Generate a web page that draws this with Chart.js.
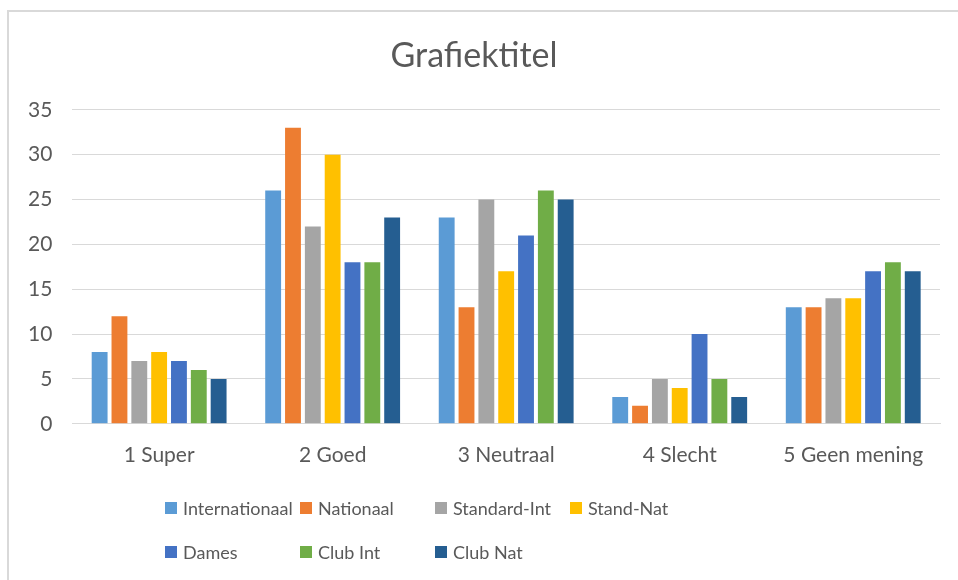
<!DOCTYPE html>
<html>
<head>
<meta charset="utf-8">
<script src="https://cdn.jsdelivr.net/npm/chart.js@4"></script>
<style>
    html, body { margin: 0; padding: 0; background: #fff; }
    #wrap { position: relative; width: 958px; height: 580px; overflow: hidden; font-family: Lato, sans-serif; }
    #frame { position: absolute; left: 7px; top: 10px; right: -5px; bottom: -5px; border-top: 2px solid #d9d9d9; border-left: 2px solid #d9d9d9; }
    canvas { position: absolute; left: 0; top: 0; }
    #legend { position: absolute; left: 165px; top: 496px; display: grid; grid-template-columns: repeat(4, 135px); row-gap: 20px; }
    .item { display: flex; align-items: center; height: 24px; font-size: 18px; color: #595959; white-space: nowrap; }
    .box { width: 12px; height: 12px; margin-right: 6px; flex: none; }
</style>
</head>
<body>
<div id="wrap">
    <div id="frame"></div>
    <canvas id="chart" width="958" height="580"></canvas>
    <div id="legend"></div>
</div>
<script>
const categories = ['1 Super', '2 Goed', '3 Neutraal', '4 Slecht', '5 Geen mening'];

const internationaal = [8, 26, 23, 3, 13];
const nationaal = [12, 33, 13, 2, 13];
const standardInt = [7, 22, 25, 5, 14];
const standNat = [8, 30, 17, 4, 14];
const dames = [7, 18, 21, 10, 17];
const clubInt = [6, 18, 26, 5, 18];
const clubNat = [5, 23, 25, 3, 17];

const yTicks = [0, 5, 10, 15, 20, 25, 30, 35];

const series = [
    { label: 'Internationaal', data: internationaal, color: '#5b9bd5' },
    { label: 'Nationaal', data: nationaal, color: '#ed7d31' },
    { label: 'Standard-Int', data: standardInt, color: '#a5a5a5' },
    { label: 'Stand-Nat', data: standNat, color: '#ffc000' },
    { label: 'Dames', data: dames, color: '#4472c4' },
    { label: 'Club Int', data: clubInt, color: '#70ad47' },
    { label: 'Club Nat', data: clubNat, color: '#255e91' }
];

const textColor = '#595959';
const gridColor = '#d9d9d9';

// legend is drawn as html so the columns line up like the original
const htmlLegend = {
    id: 'htmlLegend',
    afterUpdate(chart) {
        const box = document.getElementById('legend');
        box.innerHTML = '';
        const items = chart.options.plugins.legend.labels.generateLabels(chart);
        items.forEach(item => {
            const el = document.createElement('div');
            el.className = 'item';
            const sw = document.createElement('span');
            sw.className = 'box';
            sw.style.background = item.fillStyle;
            el.appendChild(sw);
            el.appendChild(document.createTextNode(item.text));
            box.appendChild(el);
        });
    }
};

new Chart(document.getElementById('chart'), {
    type: 'bar',
    data: {
        labels: categories,
        datasets: series.map(s => ({
            label: s.label,
            data: s.data,
            backgroundColor: s.color,
            borderWidth: 0,
            barPercentage: 0.8,
            categoryPercentage: 0.8
        }))
    },
    options: {
        responsive: false,
        animation: false,
        layout: { padding: { top: 36, left: 8, right: 18, bottom: 93 } },
        plugins: {
            legend: { display: false },
            tooltip: { enabled: false },
            title: {
                display: true,
                text: 'Grafiektitel',
                color: textColor,
                font: { family: 'Lato', size: 34, weight: 'normal' },
                padding: { top: 0, bottom: 33 }
            }
        },
        scales: {
            x: {
                grid: { display: false, drawTicks: false },
                border: { display: true, color: gridColor, width: 1 },
                ticks: { color: textColor, font: { family: 'Lato', size: 21 }, padding: 19 }
            },
            y: {
                min: 0,
                max: 35,
                afterBuildTicks(axis) { axis.ticks = yTicks.map(v => ({ value: v })); },
                grid: { color: gridColor, drawTicks: false },
                border: { display: false },
                ticks: { color: textColor, font: { family: 'Lato', size: 21 }, padding: 20 }
            }
        }
    },
    plugins: [htmlLegend]
});
</script>
</body>
</html>
